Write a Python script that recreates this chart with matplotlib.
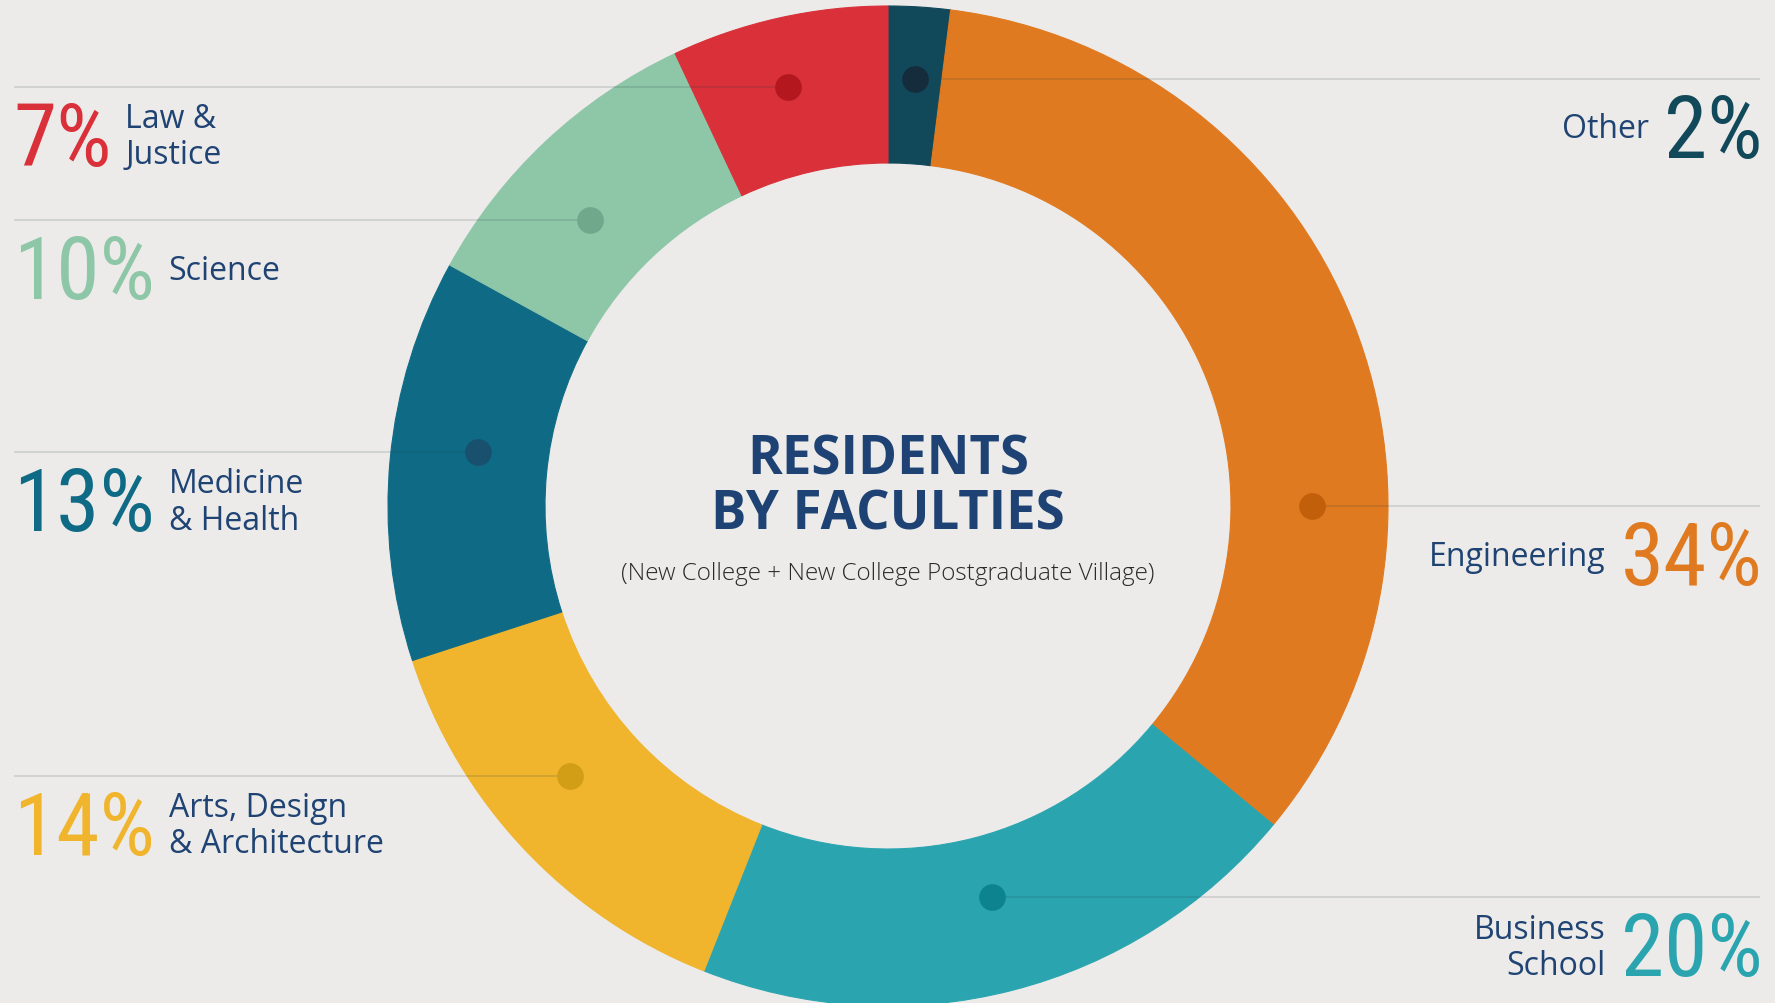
import numpy as np
import matplotlib.pyplot as plt
from matplotlib import font_manager as fm

# faculty shares, clockwise from 12 o'clock
faculties = ['Other', 'Engineering', 'Business\nSchool', 'Arts, Design\n& Architecture',
             'Medicine\n& Health', 'Science', 'Law &\nJustice']
shares = [2, 34, 20, 14, 13, 10, 7]
title = 'RESIDENTS\nBY FACULTIES'
subtitle = '(New College + New College Postgraduate Village)'

colors = ['#12495a', '#e07a20', '#2aa5b0', '#f0b42d', '#0f6b85', '#8ec6a8', '#d9303a']
dot_colors = ['#142c3c', '#c25f0a', '#0e8390', '#d19e16', '#18506d', '#6fa88a', '#b5171f']
# where each marker sits on the ring (degrees clockwise from top, radius in px)
dot_angles = [3.6, 90, 165.1, 229.7, 277.5, 313.8, 346.6]
dot_radii = [428, 424, 405, 417, 414, 413, 431]

BG = '#ecebe9'
NAVY = '#1f4373'
W, H = 1775, 1004
cx, cy = 888, H - 507
R_out, R_in = 500, 343


def find_font(cands):
    for name in cands:
        for f in fm.fontManager.ttflist:
            if f.name == name and f.style == 'normal' and f.weight in (400, 'normal', 'regular', 'book'):
                return f.fname
    return None


cond_path = find_font(['Roboto Condensed', 'Open Sans Condensed', 'Liberation Sans Narrow'])

fig = plt.figure(figsize=(W / 100, H / 100), dpi=100, facecolor=BG)
ax = fig.add_axes([0, 0, 1, 1])
ax.set_facecolor(BG)

wedges, _ = ax.pie(shares, colors=colors, startangle=90, counterclock=False,
                   radius=R_out, center=(cx, cy),
                   wedgeprops=dict(width=R_out - R_in, linewidth=0.8))
for w, c in zip(wedges, colors):
    w.set_edgecolor(c)
    w.set_zorder(2)

ax.set_xlim(0, W)
ax.set_ylim(0, H)
ax.set_aspect('auto')
ax.axis('off')

for i, (lab, val) in enumerate(zip(faculties, shares)):
    a = np.deg2rad(dot_angles[i])
    dx, dy = cx + dot_radii[i] * np.sin(a), cy + dot_radii[i] * np.cos(a)
    right = dx > cx
    xs = [dx, 1760] if right else [14, dx]
    ax.plot(xs, [dy, dy], color='#1a3a40', alpha=0.16, lw=1.2, zorder=3,
            solid_capstyle='butt')
    ax.scatter([dx], [dy], s=370, color=dot_colors[i], zorder=4, linewidths=0)

    ty = dy - 78
    pct_kw = dict(color=colors[i], va='baseline', zorder=5)
    if cond_path:
        pct_kw['fontproperties'] = fm.FontProperties(fname=cond_path, size=63)
    else:
        pct_kw['fontsize'] = 58
    lab_kw = dict(va='center', fontsize=23, family='Open Sans', color=NAVY,
                  linespacing=1.14, textcoords='offset points')
    if right:
        t = ax.text(1763, ty, f'{val}%', ha='right', **pct_kw)
        ax.annotate(lab, xy=(0, dy - 50), xycoords=(t, 'data'), xytext=(-11, 0),
                    ha='right', multialignment='right', **lab_kw)
    else:
        t = ax.text(13, ty, f'{val}%', ha='left', **pct_kw)
        ax.annotate(lab, xy=(1, dy - 50), xycoords=(t, 'data'), xytext=(10, 0),
                    ha='left', multialignment='left', **lab_kw)

ax.text(cx, H - 488, title, ha='center', va='center', fontsize=38, fontweight='bold',
        family='Open Sans', color='#1d4273', linespacing=1.02)
ax.text(cx, H - 574, subtitle, ha='center', va='center', fontsize=17.5,
        family='Open Sans', fontweight='light', color='#2a2a2a')

fig.savefig('out.png', dpi=100, facecolor=BG)
